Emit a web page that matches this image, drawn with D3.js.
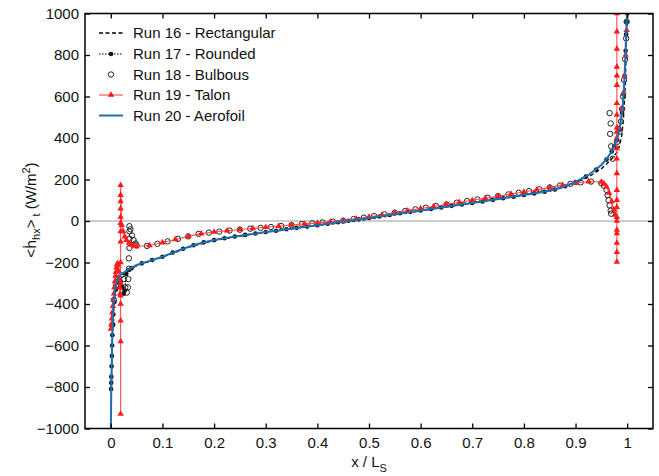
<!DOCTYPE html>
<html>
<head>
<meta charset="utf-8">
<script src="https://cdn.jsdelivr.net/npm/d3@7"></script>
<style>
  body { margin: 0; background: #fff; }
  svg text { font-family: "Liberation Sans", Arial, sans-serif; fill: #111; }
</style>
</head>
<body>
<div id="chart"></div>
<script>
// ---- data ----
const xTicks = [0, 0.1, 0.2, 0.3, 0.4, 0.5, 0.6, 0.7, 0.8, 0.9, 1];
const yTicks = [-1000, -800, -600, -400, -200, 0, 200, 400, 600, 800, 1000];
const seriesNames = ["Run 16 - Rectangular", "Run 17 - Rounded", "Run 18 - Bulbous", "Run 19 - Talon", "Run 20 - Aerofoil"];

// Run 16 - Rectangular (dashed)
const run16X = [0, 0.001, 0.002, 0.004, 0.007, 0.01, 0.015, 0.02, 0.03, 0.04,
  0.05, 0.1, 0.15, 0.2, 0.25, 0.3, 0.35, 0.4, 0.45, 0.5, 0.55, 0.6, 0.65, 0.7, 0.75, 0.8, 0.85,
  0.9, 0.925, 0.95, 0.96, 0.97, 0.98, 0.985, 0.99, 0.993, 0.996, 0.998, 1.0];
const run16Y = [-1000, -820, -680, -480, -370, -315, -278, -262, -243, -229,
  -215, -174, -127, -94, -73, -55, -38, -21, -3, 14, 32, 50, 68, 86, 105, 124, 144,
  184, 212, 252, 275, 300, 330, 360, 420, 500, 640, 800, 1000];

// Run 17 - Rounded (dotted + filled dots)
const run17X = [0.0005, 0.0008, 0.001, 0.0015, 0.002, 0.0025, 0.003, 0.004, 0.005, 0.007,
  0.01, 0.013, 0.016, 0.019, 0.022, 0.025, 0.027, 0.03, 0.035,
  0.04, 0.06, 0.08, 0.10, 0.12, 0.14, 0.16, 0.18, 0.20, 0.22, 0.24, 0.26, 0.28, 0.30,
  0.32, 0.34, 0.36, 0.38, 0.40, 0.42, 0.44, 0.46, 0.48, 0.50, 0.52, 0.54, 0.56, 0.58,
  0.60, 0.62, 0.64, 0.66, 0.68, 0.70, 0.72, 0.74, 0.76, 0.78, 0.80, 0.82, 0.84, 0.86,
  0.88, 0.90, 0.92, 0.94, 0.96,
  0.97, 0.975, 0.98, 0.985, 0.99, 0.993, 0.995, 0.997, 0.998, 0.999, 1.0];
const run17Y = [-810, -780, -750, -700, -650, -600, -550, -500, -450, -390,
  -330, -295, -280, -290, -320, -350, -335, -255, -236,
  -228, -204, -188, -172, -152, -134, -117, -103, -92, -83, -75, -67, -60, -53,
  -47, -40, -33, -27, -20, -13, -6, 1, 8, 15, 22, 29, 37, 44,
  51, 58, 65, 73, 80, 87, 94, 102, 110, 117, 125, 133, 141, 152,
  168, 188, 214, 248, 296,
  335, 360, 390, 440, 520, 610, 700, 820, 900, 960, 1000];

// Run 18 - Bulbous (open circles only)
const run18X = [0.003, 0.006, 0.01, 0.015, 0.02, 0.025, 0.028, 0.031, 0.033, 0.034,
  0.035, 0.035, 0.036, 0.036, 0.036, 0.036, 0.038, 0.041, 0.044, 0.048,
  0.05, 0.07, 0.09, 0.11, 0.13, 0.15, 0.17, 0.19, 0.21, 0.23, 0.25, 0.27, 0.29, 0.31,
  0.33, 0.35, 0.37, 0.39, 0.41, 0.43, 0.45, 0.47, 0.49, 0.51, 0.53, 0.55, 0.57, 0.59,
  0.61, 0.63, 0.65, 0.67, 0.69, 0.71, 0.73, 0.75, 0.77, 0.79, 0.81, 0.83, 0.85, 0.87,
  0.89, 0.91, 0.93, 0.95,
  0.955, 0.96, 0.962, 0.964, 0.966, 0.968, 0.969, 0.966, 0.968, 0.967, 0.969, 0.972,
  0.98, 0.985, 0.988, 0.99, 0.992, 0.994, 0.996, 0.998, 0.999];
const run18Y = [-500, -380, -310, -275, -262, -280, -320, -345, -320, -280,
  -230, -180, -130, -85, -50, -25, -40, -70, -92, -108,
  -118, -120, -110, -98, -86, -74, -62, -56, -51, -46, -42, -37, -33, -29,
  -24, -20, -15, -11, -7, -3, 1, 9, 16, 24, 32, 40, 48, 56,
  64, 72, 80, 88, 96, 104, 112, 120, 128, 136, 144, 153, 162, 171,
  179, 186, 190, 182,
  170, 150, 125, 100, 75, 50, 35, 520, 470, 420, 360, 300,
  380, 430, 480, 540, 600, 680, 780, 880, 960];

// Run 19 - Talon (red line + triangles)
const run19X = [0, 0.001, 0.002, 0.003, 0.004, 0.005, 0.006, 0.007, 0.008, 0.009,
  0.01, 0.011, 0.012, 0.013, 0.014, 0.015, 0.016, 0.017, 0.018,
  0.019, 0.019, 0.019, 0.019, 0.019, 0.019, 0.019, 0.019, 0.019, 0.019, 0.019, 0.019, 0.019, 0.019, 0.019,
  0.021, 0.024, 0.027, 0.03, 0.035, 0.04, 0.045,
  0.05, 0.075, 0.1, 0.125, 0.15, 0.175, 0.2, 0.225, 0.25, 0.275, 0.3, 0.325, 0.35, 0.375,
  0.4, 0.425, 0.45, 0.475, 0.5, 0.525, 0.55, 0.575, 0.6, 0.625, 0.65, 0.675, 0.7, 0.725,
  0.75, 0.775, 0.8, 0.825, 0.85, 0.875, 0.9, 0.925, 0.95,
  0.955, 0.96, 0.965, 0.97, 0.974, 0.977,
  0.98, 0.98, 0.98, 0.98, 0.98, 0.98, 0.98, 0.98, 0.98, 0.98, 0.98, 0.98, 0.98, 0.98, 0.98, 0.98,
  0.98, 0.98, 0.98, 0.98, 0.98, 0.98, 0.98, 0.98,
  0.985, 0.99, 0.993, 0.995, 0.997, 0.999];
const run19Y = [-520, -500, -470, -440, -410, -380, -350, -320, -290, -265,
  -245, -225, -210, -205, -215, -240, -280, -320, -350,
  -360, -930, -580, -480, -400, -300, -200, -100, -50, -10, 20, 60, 95, 125, 173,
  -20, -50, -75, -92, -105, -115, -120,
  -122, -118, -104, -89, -74, -61, -53, -47, -41, -36, -30, -25, -19, -14,
  -9, -4, 2, 11, 20, 30, 40, 50, 60, 70, 80, 90, 100, 110,
  120, 130, 140, 151, 162, 173, 182, 190, 188,
  180, 165, 135, 95, 55, 30,
  0, -43, -106, -197, -150, -60, 19, 67, 101, 149, 230, 300, 350, 400, 450, 511,
  568, 655, 743, 830, 912, 1000, 700, 430,
  450, 540, 620, 700, 800, 920];

// Run 20 - Aerofoil (blue line)
const run20X = [0, 0.0005, 0.001, 0.002, 0.003, 0.004, 0.006, 0.008, 0.011, 0.015,
  0.02, 0.03, 0.04, 0.05, 0.075, 0.1, 0.125, 0.15, 0.175, 0.2,
  0.25, 0.3, 0.35, 0.4, 0.45, 0.5, 0.55, 0.6, 0.65, 0.7, 0.75, 0.8, 0.85,
  0.875, 0.9, 0.925, 0.95,
  0.96, 0.97, 0.975, 0.98, 0.985, 0.99, 0.993, 0.995, 0.997, 0.999, 1.0];
const run20Y = [-1000, -900, -800, -660, -540, -450, -380, -330, -298, -272,
  -258, -240, -226, -212, -192, -172, -148, -125, -106, -92,
  -71, -53, -37, -20, -2, 15, 33, 51, 69, 87, 106, 125, 146,
  163, 188, 222, 270,
  298, 335, 360, 395, 440, 520, 600, 700, 830, 960, 1000];

// ---- drawing ----
const W = 659, H = 476;
const plot = { left: 85, right: 653, top: 13.5, bottom: 428.5 };
const red = "#ff1a1a", blue = "#1f6fb5";

const svg = d3.select("#chart").append("svg")
  .attr("width", W).attr("height", H);

const x = d3.scaleLinear().domain([-0.05, 1.05]).range([plot.left, plot.right]);
const y = d3.scaleLinear().domain([-1000, 1000]).range([plot.bottom, plot.top]);

svg.append("clipPath").attr("id", "clip")
  .append("rect")
  .attr("x", plot.left).attr("y", plot.top)
  .attr("width", plot.right - plot.left).attr("height", plot.bottom - plot.top);

// zero line
svg.append("line")
  .attr("x1", x(-0.05)).attr("x2", x(1.05))
  .attr("y1", y(0)).attr("y2", y(0))
  .attr("stroke", "#9a9a9a").attr("stroke-width", 1);

const g = svg.append("g").attr("clip-path", "url(#clip)");
const line = d3.line().x(d => x(d[0])).y(d => y(d[1]));

const run16 = d3.zip(run16X, run16Y);
const run17 = d3.zip(run17X, run17Y);
const run18 = d3.zip(run18X, run18Y);
const run19 = d3.zip(run19X, run19Y);
const run20 = d3.zip(run20X, run20Y);

// Run 16
g.append("path").datum(run16).attr("d", line)
  .attr("fill", "none").attr("stroke", "#000").attr("stroke-width", 1.3)
  .attr("stroke-dasharray", "4,2.5");

// Run 17
g.append("path").datum(run17).attr("d", line)
  .attr("fill", "none").attr("stroke", "#000").attr("stroke-width", 1.2)
  .attr("stroke-dasharray", "1.5,1.5");
g.selectAll(".dot17").data(run17).enter().append("circle")
  .attr("class", "dot17")
  .attr("cx", d => x(d[0])).attr("cy", d => y(d[1]))
  .attr("r", 2.3).attr("fill", "#111");

// Run 18
g.selectAll(".dot18").data(run18).enter().append("circle")
  .attr("class", "dot18")
  .attr("cx", d => x(d[0])).attr("cy", d => y(d[1]))
  .attr("r", 2.7).attr("fill", "none").attr("stroke", "#222").attr("stroke-width", 1);

// Run 19
const tri = d3.symbol().type(d3.symbolTriangle).size(18);
g.append("path").datum(run19).attr("d", line)
  .attr("fill", "none").attr("stroke", "#ff4a4a").attr("stroke-width", 1.1);
g.selectAll(".tri19").data(run19).enter().append("path")
  .attr("class", "tri19")
  .attr("transform", d => "translate(" + x(d[0]) + "," + y(d[1]) + ")")
  .attr("d", tri).attr("fill", red);

// Run 20
g.append("path").datum(run20).attr("d", line)
  .attr("fill", "none").attr("stroke", blue).attr("stroke-width", 2);

// axes: ticks inward on all four sides
const fmt = d => d3.format("")(d);
svg.append("g").attr("class", "axis")
  .attr("transform", "translate(0," + plot.bottom + ")")
  .call(d3.axisBottom(x).tickValues(xTicks).tickSize(-5).tickSizeOuter(0).tickPadding(9).tickFormat(fmt));
svg.append("g").attr("class", "axis")
  .attr("transform", "translate(0," + plot.top + ")")
  .call(d3.axisTop(x).tickValues(xTicks).tickSize(-5).tickSizeOuter(0).tickFormat(""));
svg.append("g").attr("class", "axis")
  .attr("transform", "translate(" + plot.left + ",0)")
  .call(d3.axisLeft(y).tickValues(yTicks).tickSize(-5).tickSizeOuter(0).tickPadding(6).tickFormat(fmt));
svg.append("g").attr("class", "axis")
  .attr("transform", "translate(" + plot.right + ",0)")
  .call(d3.axisRight(y).tickValues(yTicks).tickSize(-5).tickSizeOuter(0).tickFormat(""));

svg.selectAll(".axis .domain").remove();
svg.selectAll(".axis line").attr("stroke", "#000").attr("stroke-width", 1.3);
svg.selectAll(".axis text").style("font-size", "15px").attr("fill", "#111");

// frame
svg.append("rect")
  .attr("x", plot.left).attr("y", plot.top)
  .attr("width", plot.right - plot.left).attr("height", plot.bottom - plot.top)
  .attr("fill", "none").attr("stroke", "#000").attr("stroke-width", 1.5);

// x label
const xl = svg.append("text")
  .attr("x", x(0.5)).attr("y", 467)
  .attr("text-anchor", "middle").style("font-size", "15px");
xl.append("tspan").text("x / L");
xl.append("tspan").attr("dy", 5).style("font-size", "11px").text("S");

// y label
const yl = svg.append("text")
  .attr("transform", "translate(36,210) rotate(-90)")
  .attr("text-anchor", "middle").style("font-size", "15px");
yl.append("tspan").text("<");
yl.append("tspan").style("font-family", "'DejaVu Sans', sans-serif").style("font-size", "14px").text("ḣ");
yl.append("tspan").attr("dy", 4).style("font-size", "11px").text("hx");
yl.append("tspan").attr("dy", -4).text(">");
yl.append("tspan").attr("dy", 4).style("font-size", "11px").text(" t");
yl.append("tspan").attr("dy", -4).text(" (W/m");
yl.append("tspan").attr("dy", -6).style("font-size", "11px").text("2");
yl.append("tspan").attr("dy", 6).text(")");

// legend
const legRows = [33, 54, 74.5, 95, 115.5];
const lg = svg.append("g");
const lx1 = 99, lx2 = 123, lxm = 111;
seriesNames.forEach((name, i) => {
  lg.append("text").attr("x", 133).attr("y", legRows[i]).attr("dy", "0.36em")
    .style("font-size", "15px").text(name);
});
lg.append("line").attr("x1", lx1).attr("x2", lx2).attr("y1", legRows[0]).attr("y2", legRows[0])
  .attr("stroke", "#000").attr("stroke-width", 1.3).attr("stroke-dasharray", "4,2.5");
lg.append("line").attr("x1", lx1).attr("x2", lx2).attr("y1", legRows[1]).attr("y2", legRows[1])
  .attr("stroke", "#000").attr("stroke-width", 1.2).attr("stroke-dasharray", "1.5,1.5");
lg.append("circle").attr("cx", lxm).attr("cy", legRows[1]).attr("r", 2.3).attr("fill", "#111");
lg.append("circle").attr("cx", lxm).attr("cy", legRows[2]).attr("r", 2.7)
  .attr("fill", "none").attr("stroke", "#222");
lg.append("line").attr("x1", lx1).attr("x2", lx2).attr("y1", legRows[3]).attr("y2", legRows[3])
  .attr("stroke", "#ff4a4a").attr("stroke-width", 1.1);
lg.append("path").attr("transform", "translate(" + lxm + "," + legRows[3] + ")")
  .attr("d", tri).attr("fill", red);
lg.append("line").attr("x1", lx1).attr("x2", lx2).attr("y1", legRows[4]).attr("y2", legRows[4])
  .attr("stroke", blue).attr("stroke-width", 2);
</script>
</body>
</html>
